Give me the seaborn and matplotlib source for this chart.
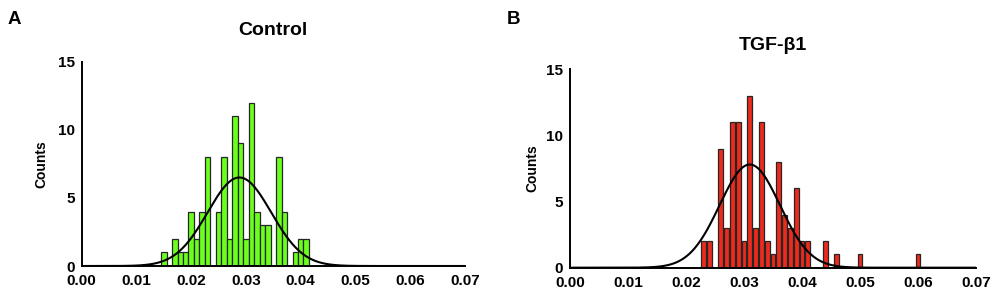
"""Control vs TGF-b1 histograms with gaussian fit"""
import numpy as np
import pandas as pd
import matplotlib
matplotlib.use('Agg')
import matplotlib.pyplot as plt
import seaborn as sns

# bin centres (0.001 wide bins) and counts
control_bins = [0.015, 0.016, 0.017, 0.018, 0.019, 0.020, 0.021, 0.022, 0.023, 0.024,
                0.025, 0.026, 0.027, 0.028, 0.029, 0.030, 0.031, 0.032, 0.033, 0.034,
                0.035, 0.036, 0.037, 0.038, 0.039, 0.040, 0.041]
control_counts = [1, 0, 2, 1, 1, 4, 2, 4, 8, 0,
                  4, 8, 2, 11, 9, 2, 12, 4, 3, 3,
                  0, 8, 4, 0, 1, 2, 2]

tgf_bins = [0.023, 0.024, 0.025, 0.026, 0.027, 0.028, 0.029, 0.030, 0.031, 0.032,
            0.033, 0.034, 0.035, 0.036, 0.037, 0.038, 0.039, 0.040, 0.041, 0.044,
            0.046, 0.050, 0.060]
tgf_counts = [2, 2, 0, 9, 3, 11, 11, 2, 13, 3,
              11, 2, 1, 8, 4, 3, 6, 2, 2, 2,
              1, 1, 1]

# gaussian fit parameters (amplitude, mean, sd)
control_fit = (6.5, 0.0288, 0.0058)
tgf_fit = (7.8, 0.0310, 0.0052)

x_ticks = [0.00, 0.01, 0.02, 0.03, 0.04, 0.05, 0.06, 0.07]
y_ticks = [0, 5, 10, 15]

GREEN = '#6CFF1E'
RED = '#EE2A1C'


def draw_panel(ax, bins, counts, fit, color, shrink, labelpad):
    df = pd.DataFrame({'value': bins, 'count': counts})
    sns.histplot(data=df, x='value', weights='count', binwidth=0.001,
                 binrange=(0.0005, 0.0705), ax=ax, shrink=shrink,
                 color=color, alpha=1.0, edgecolor='#262626', linewidth=0.9)

    amp, mu, sd = fit
    xs = np.linspace(0, 0.07, 400)
    curve = pd.DataFrame({'x': xs, 'y': amp * np.exp(-0.5 * ((xs - mu) / sd) ** 2)})
    sns.lineplot(data=curve, x='x', y='y', ax=ax, color='black', linewidth=1.5)

    ax.set_xlim(0, 0.07)
    ax.set_ylim(0, 15)
    ax.set_xticks(x_ticks)
    ax.set_xticklabels([f'{t:.2f}' for t in x_ticks], fontweight='bold', fontsize=11)
    ax.set_yticks(y_ticks)
    ax.set_yticklabels([str(t) for t in y_ticks], fontweight='bold', fontsize=11)
    ax.set_xlabel('')
    ax.set_ylabel('Counts', fontweight='bold', fontsize=10, labelpad=labelpad)
    for side in ['top', 'right']:
        ax.spines[side].set_visible(False)
    for side in ['left', 'bottom']:
        ax.spines[side].set_linewidth(1.4)
        ax.spines[side].set_color('black')
    ax.tick_params(axis='x', direction='out', length=4, width=1.2, pad=2, colors='black')
    ax.tick_params(axis='y', direction='out', length=4, width=1.2, pad=1, colors='black')


sns.set_style('white')
plt.rcParams['font.family'] = ['Liberation Sans', 'DejaVu Sans']
plt.rcParams['text.color'] = 'black'
plt.rcParams['axes.labelcolor'] = 'black'

fig = plt.figure(figsize=(10, 2.94), dpi=100)
ax1 = fig.add_axes([0.0817, 0.0952, 0.3833, 0.6949])
ax2 = fig.add_axes([0.570, 0.0895, 0.406, 0.675])

draw_panel(ax1, control_bins, control_counts, control_fit, GREEN, 1.0, 6.5)
draw_panel(ax2, tgf_bins, tgf_counts, tgf_fit, RED, 0.85, 5)

fig.text(0.273, 0.895, 'Control', ha='center', va='center', fontweight='bold', fontsize=14)
fig.text(0.773, 0.845, 'TGF-β1', ha='center', va='center', fontweight='bold', fontsize=14)
fig.text(0.008, 0.935, 'A', ha='left', va='center', fontweight='bold', fontsize=13.5)
fig.text(0.507, 0.935, 'B', ha='left', va='center', fontweight='bold', fontsize=13.5)

fig.savefig('out.png', dpi=100)
plt.close(fig)
